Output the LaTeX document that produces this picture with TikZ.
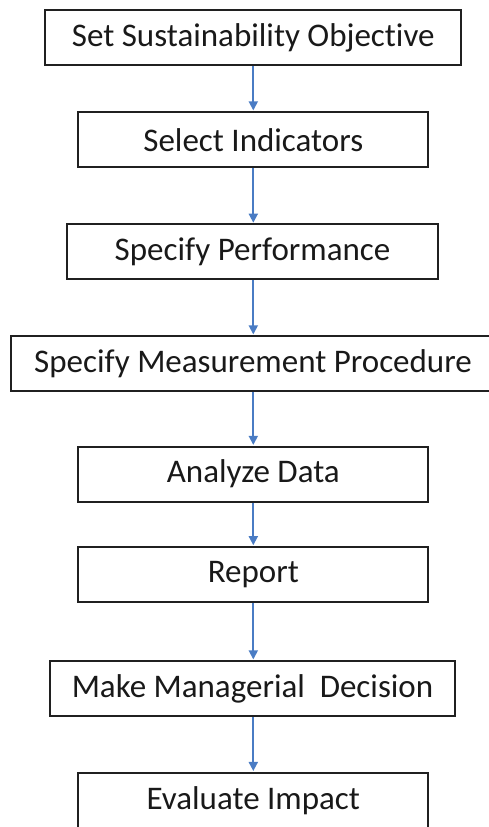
\documentclass[tikz,border=0pt]{standalone}
\usepackage{fontspec}
\setmainfont{Carlito}[Ligatures={NoCommon}]
\usetikzlibrary{arrows.meta}
\definecolor{flowblue}{HTML}{4A7CC4}
\definecolor{boxline}{HTML}{202020}
\tikzset{
  stepbox/.style={draw=boxline, line width=2pt, rectangle, inner sep=0pt,
    minimum height=55pt, font=\fontsize{33}{36}\selectfont, text=black!90},
  flow/.style={draw=flowblue, line width=1.8pt,
    -{Triangle[width=9pt,length=9pt]}, shorten >=0.8pt},
}
\begin{document}
\begin{tikzpicture}[x=1pt,y=1pt]
  \useasboundingbox (0,0) rectangle (489,827);
  \clip (0,0) rectangle (489,827);
  \node[stepbox, minimum width=416pt] (objective) at (253.3,789.5) {Set Sustainability Objective};
  \node[stepbox, minimum width=350pt] (indicators) at (253.3,687.3) {Select Indicators};
  \node[stepbox, minimum width=371pt] (performance) at (252.5,575) {Specify Performance};
  \node[stepbox, minimum width=484pt] (procedure) at (253,463.3) {Specify Measurement Procedure};
  \node[stepbox, minimum width=350pt] (analyze) at (253.3,352.8) {Analyze Data};
  \node[stepbox, minimum width=350pt] (report) at (253.3,252.5) {Report};
  \node[stepbox, minimum width=405pt] (decision) at (252.5,138.3) {Make Managerial\hspace{0.45em}Decision};
  \node[stepbox, minimum width=350pt] (impact) at (253.3,26.7) {Evaluate Impact};
  \foreach \a/\b in {objective/indicators, indicators/performance,
      performance/procedure, procedure/analyze, analyze/report,
      report/decision, decision/impact}
    \draw[flow] (\a.south -| 253.3,0) -- (\b.north -| 253.3,0);
\end{tikzpicture}
\end{document}
